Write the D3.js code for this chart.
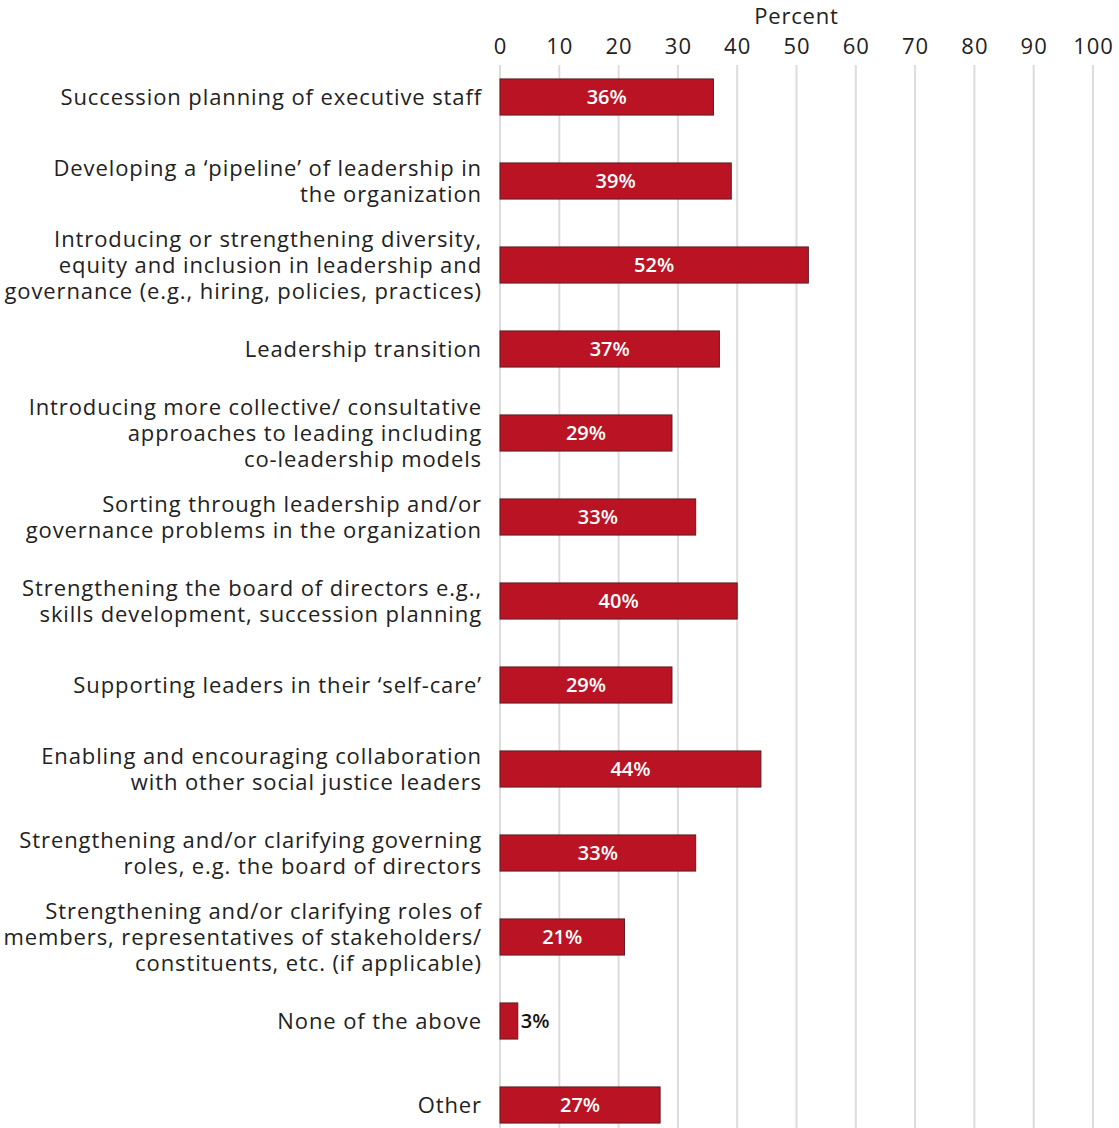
<!DOCTYPE html>
<html lang="en">
<head>
    <meta charset="UTF-8">
    <script src="https://cdnjs.cloudflare.com/ajax/libs/d3/7.8.5/d3.min.js"></script>
    <style>
        body { margin: 0; background: #fff; }
        text { font-family: "Open Sans", sans-serif; }
    </style>
</head>
<body>
    <svg id="chart" width="1119" height="1128"></svg>
    <script>
        // category labels, one entry per line
        let categories = [
            ["Succession planning of executive staff"],
            ["Developing a \u2018pipeline\u2019 of leadership in", "the organization"],
            ["Introducing or strengthening diversity,", "equity and inclusion in leadership and", "governance (e.g., hiring, policies, practices)"],
            ["Leadership transition"],
            ["Introducing more collective/ consultative", "approaches to leading including", "co-leadership models"],
            ["Sorting through leadership and/or", "governance problems in the organization"],
            ["Strengthening the board of directors e.g.,", "skills development, succession planning"],
            ["Supporting leaders in their \u2018self-care\u2019"],
            ["Enabling and encouraging collaboration", "with other social justice leaders"],
            ["Strengthening and/or clarifying governing", "roles, e.g. the board of directors"],
            ["Strengthening and/or clarifying roles of", "members, representatives of stakeholders/", "constituents, etc. (if applicable)"],
            ["None of the above"],
            ["Other"]
        ];
        let values = [36, 39, 52, 37, 29, 33, 40, 29, 44, 33, 21, 3, 27];
        let ticks = [0, 10, 20, 30, 40, 50, 60, 70, 80, 90, 100];

        let svg = d3.select("#chart");
        let plotLeft = 500, plotRight = 1093, plotTop = 55, step = 84;

        let x = d3.scaleLinear().domain([0, 100]).range([plotLeft, plotRight]);
        let y = d3.scaleBand()
            .domain(d3.range(values.length))
            .range([plotTop, plotTop + step * values.length])
            .paddingInner(0.57)
            .paddingOuter(0.285);

        // gridlines
        svg.append("g")
            .selectAll("line")
            .data(ticks)
            .enter()
            .append("line")
            .attr("x1", d => x(d))
            .attr("x2", d => x(d))
            .attr("y1", 65)
            .attr("y2", 1128)
            .attr("stroke", "#dcdcdc")
            .attr("stroke-width", 2);

        let xAxis = d3.axisTop(x).tickValues(ticks).tickSize(0).tickPadding(0);
        let ax = svg.append("g")
            .attr("transform", "translate(0,54)")
            .call(xAxis);
        ax.select(".domain").remove();
        ax.selectAll("text")
            .style("font-family", "'Open Sans', sans-serif")
            .style("font-size", "22px")
            .style("letter-spacing", "1px")
            .attr("fill", "#222");

        svg.append("text")
            .attr("x", x(50))
            .attr("y", 24)
            .attr("text-anchor", "middle")
            .style("font-size", "22px")
            .style("letter-spacing", "0.8px")
            .attr("fill", "#222")
            .text("Percent");

        // bars
        svg.append("g")
            .selectAll("rect")
            .data(values)
            .enter()
            .append("rect")
            .attr("x", x(0))
            .attr("y", (d, i) => y(i))
            .attr("width", d => x(d) - x(0))
            .attr("height", y.bandwidth())
            .attr("fill", "#ba1424")
            .attr("stroke", "#5a1e22")
            .attr("stroke-width", 1);

        // value labels
        svg.append("g")
            .selectAll("text")
            .data(values)
            .enter()
            .append("text")
            .attr("x", d => d < 8 ? x(d) + 3 : x(0) + (x(d) - x(0)) / 2)
            .attr("y", (d, i) => y(i) + y.bandwidth() / 2)
            .attr("dy", "0.36em")
            .attr("text-anchor", d => d < 8 ? "start" : "middle")
            .attr("fill", d => d < 8 ? "#111" : "#fff")
            .style("font-size", "20px")
            .style("font-weight", 600)
            .text(d => d + "%");

        // category labels
        let lineH = 26;
        let labels = svg.append("g")
            .selectAll("text")
            .data(categories)
            .enter()
            .append("text")
            .attr("text-anchor", "end")
            .attr("fill", "#222")
            .style("font-size", "22px")
            .style("letter-spacing", "0.9px")
            .attr("transform", (d, i) => {
                let cy = y(i) + y.bandwidth() / 2;
                return "translate(482," + (cy - (d.length - 1) * lineH / 2) + ")";
            });
        labels.selectAll("tspan")
            .data(d => d)
            .enter()
            .append("tspan")
            .attr("x", 0)
            .attr("dy", (d, i) => i === 0 ? "0.36em" : lineH)
            .text(d => d);
    </script>
</body>
</html>
